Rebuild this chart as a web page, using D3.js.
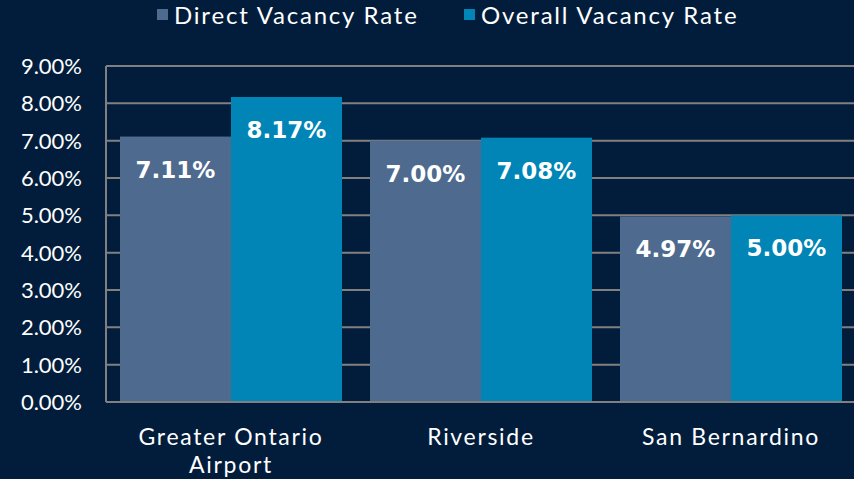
<!DOCTYPE html>
<html>
<head>
<meta charset="utf-8">
<script src="https://cdn.jsdelivr.net/npm/d3@7"></script>
<style>
  html, body { margin: 0; padding: 0; background: #011d3b; }
  svg { display: block; }
</style>
</head>
<body>
<svg id="chart" width="854" height="479"></svg>
<script>
// data
const categories = [["Greater Ontario", "Airport"], ["Riverside"], ["San Bernardino"]];
const seriesNames = ["Direct Vacancy Rate", "Overall Vacancy Rate"];
const directRate = [7.11, 7.00, 4.97];
const overallRate = [8.17, 7.08, 5.00];
const yTicks = [0, 1, 2, 3, 4, 5, 6, 7, 8, 9];

const colors = ["#4e6a8e", "#0085b6"];
const bg = "#011d3b";
const grid = "#808080";

const width = 854, height = 479;
const margin = { top: 66, left: 106, right: -2, bottom: 77 };

const svg = d3.select("#chart");
svg.append("rect").attr("width", width).attr("height", height).attr("fill", bg);

const x = d3.scaleBand()
  .domain(d3.range(categories.length))
  .range([margin.left, width - margin.right])
  .paddingInner(0.112)
  .paddingOuter(0.056);

const xInner = d3.scaleBand()
  .domain(d3.range(seriesNames.length))
  .range([0, x.bandwidth()]);

const y = d3.scaleLinear()
  .domain([0, 9])
  .range([height - margin.bottom, margin.top]);

// gridlines
svg.append("g")
  .selectAll("line")
  .data(yTicks)
  .join("line")
  .attr("x1", margin.left)
  .attr("x2", width)
  .attr("y1", d => y(d))
  .attr("y2", d => y(d))
  .attr("stroke", grid)
  .attr("stroke-width", 2);

// y axis line
svg.append("line")
  .attr("x1", margin.left).attr("x2", margin.left)
  .attr("y1", y(9)).attr("y2", y(0))
  .attr("stroke", grid).attr("stroke-width", 2);

// tick labels
svg.append("g")
  .selectAll("text")
  .data(yTicks)
  .join("text")
  .attr("x", 82)
  .attr("y", d => y(d))
  .attr("dy", "0.36em")
  .attr("text-anchor", "end")
  .attr("fill", "#ffffff")
  .attr("font-family", "Lato, sans-serif")
  .attr("font-size", 22)
  .text(d => d3.format(".2f")(d) + "%");

// bars
const rows = categories.map((c, i) => [directRate[i], overallRate[i]]);

const groups = svg.append("g")
  .selectAll("g")
  .data(rows)
  .join("g")
  .attr("transform", (d, i) => `translate(${x(i)},0)`);

groups.selectAll("rect")
  .data(d => d)
  .join("rect")
  .attr("x", (d, j) => xInner(j))
  .attr("y", d => y(d))
  .attr("width", xInner.bandwidth())
  .attr("height", d => y(0) - y(d))
  .attr("fill", (d, j) => colors[j]);

groups.selectAll("text")
  .data(d => d)
  .join("text")
  .attr("x", (d, j) => xInner(j) + xInner.bandwidth() / 2)
  .attr("y", d => y(d) + 41)
  .attr("text-anchor", "middle")
  .attr("fill", "#ffffff")
  .attr("font-family", "DejaVu Sans, sans-serif")
  .attr("font-weight", "bold")
  .attr("font-size", 23)
  .text(d => d3.format(".2f")(d) + "%");

// bottom axis line
svg.append("line")
  .attr("x1", margin.left).attr("x2", width)
  .attr("y1", y(0)).attr("y2", y(0))
  .attr("stroke", grid).attr("stroke-width", 2);

// category labels
const catLabels = svg.append("g")
  .selectAll("text")
  .data(categories)
  .join("text")
  .attr("x", (d, i) => x(i) + x.bandwidth() / 2)
  .attr("y", y(0) + 43)
  .attr("text-anchor", "middle")
  .attr("fill", "#ffffff")
  .attr("font-family", "Lato, sans-serif")
  .attr("font-size", 23)
  .attr("letter-spacing", 1.7);

catLabels.selectAll("tspan")
  .data(d => d)
  .join("tspan")
  .attr("x", function() { return d3.select(this.parentNode).attr("x"); })
  .attr("dy", (d, k) => k === 0 ? 0 : 28)
  .text(d => d);

// legend
const legendX = [157, 464];
const legend = svg.append("g")
  .selectAll("g")
  .data(seriesNames)
  .join("g")
  .attr("transform", (d, i) => `translate(${legendX[i]},9)`);

legend.append("rect")
  .attr("width", 11).attr("height", 11)
  .attr("fill", (d, i) => colors[i]);

legend.append("text")
  .attr("x", 17)
  .attr("y", 15)
  .attr("fill", "#ffffff")
  .attr("font-family", "Lato, sans-serif")
  .attr("font-size", 24)
  .attr("letter-spacing", 1.8)
  .text(d => d);
</script>
</body>
</html>
